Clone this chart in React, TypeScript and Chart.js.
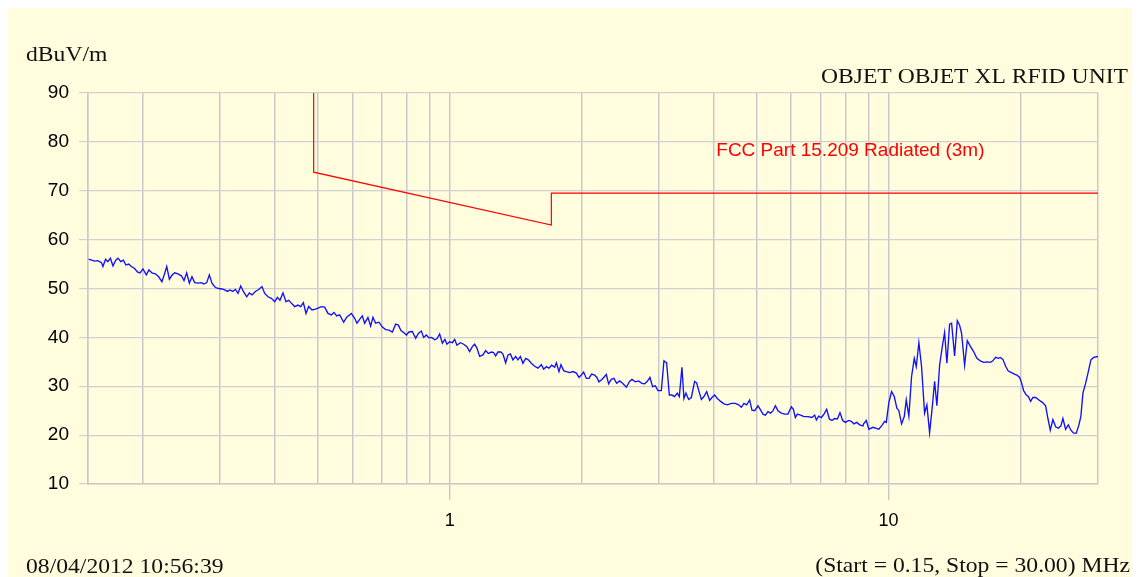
import React, { useEffect, useRef } from "react";
import { Chart, registerables } from "chart.js";

Chart.register(...registerables);

// ---- axis definitions ----
const Y_MIN = 10;
const Y_MAX = 90;
const Y_STEP = 10;
const X_MIN = 0.15;
const X_MAX = 30;
const X_GRID = [0.15, 0.2, 0.3, 0.4, 0.5, 0.6, 0.7, 0.8, 0.9, 1, 2, 3, 4, 5, 6, 7, 8, 9, 10, 20, 30];
const X_LABELED = [1, 10];

// ---- texts ----
const Y_UNIT = "dBuV/m";
const TITLE = "OBJET OBJET XL RFID UNIT";
const DATE_TEXT = "08/04/2012 10:56:39";
const RANGE_TEXT = "(Start = 0.15, Stop = 30.00) MHz";
const LIMIT_NAME = "FCC Part 15.209 Radiated (3m)";
const LIMIT_LABEL_AT = { f: 4.05, dB: 77.1 };

// ---- limit line (MHz, dBuV/m) ----
const LIMIT_FREQ = [0.49, 0.49, 1.705, 1.705, 30];
const LIMIT_LEVEL = [93.8, 73.8, 63.0, 69.5, 69.5];

// ---- measured scan [MHz, dBuV/m] ----
const SCAN_LOW: [number, number][] = [
  [0.1505, 56.0], [0.1553, 55.6], [0.158, 55.7], [0.161, 55.3], [0.1622, 54.5], [0.1645, 56.0], [0.1665, 55.5], [0.1687, 56.2],
  [0.171, 54.6], [0.1735, 55.8], [0.1756, 56.2], [0.1781, 55.5], [0.1806, 55.8], [0.183, 54.8], [0.1857, 55.0], [0.1883, 54.5],
  [0.1916, 54.1], [0.1943, 53.4], [0.197, 53.2], [0.2001, 54.0], [0.2037, 52.8], [0.2065, 53.8], [0.2098, 53.2], [0.2136, 53.0],
  [0.2173, 52.4], [0.2211, 51.4], [0.2243, 53.1], [0.2267, 54.5], [0.2299, 51.9], [0.233, 52.7], [0.2364, 53.2], [0.2405, 53.0],
  [0.2448, 52.6], [0.2482, 51.6], [0.2517, 53.2], [0.2553, 51.1], [0.2588, 52.4], [0.2625, 51.2], [0.2671, 51.1], [0.2719, 51.2],
  [0.2756, 50.9], [0.2796, 51.2], [0.2835, 52.8], [0.2874, 51.1], [0.2926, 50.2], [0.2977, 50.0], [0.3029, 49.9], [0.3073, 49.7],
  [0.3116, 49.4], [0.3159, 49.7], [0.3204, 49.4], [0.325, 49.8], [0.3295, 49.0], [0.3342, 50.5], [0.3389, 49.4], [0.3449, 48.3],
  [0.3497, 49.1], [0.3546, 48.7], [0.3609, 49.4], [0.3672, 49.8], [0.3736, 50.4], [0.379, 49.0], [0.3856, 48.3], [0.3925, 48.0],
  [0.3994, 47.3], [0.4051, 48.2], [0.4106, 47.6], [0.4172, 49.1], [0.4238, 47.3], [0.4299, 47.6], [0.436, 47.0], [0.4436, 46.3],
  [0.4513, 46.6], [0.4578, 46.3], [0.4642, 47.1], [0.4707, 44.9], [0.4773, 46.3], [0.4857, 45.6], [0.4945, 45.8], [0.5012, 46.0],
  [0.5102, 46.3], [0.5192, 46.2], [0.5282, 44.9], [0.5377, 44.6], [0.5451, 45.1], [0.5529, 44.4],
];

const SCAN_MID: [number, number][] = [
  [0.5616, 44.6], [0.5735, 43.1], [0.5836, 44.2], [0.5972, 44.9], [0.6076, 43.9], [0.6149, 42.9], [0.6237, 43.7], [0.6325, 44.4],
  [0.6403, 42.9], [0.6514, 44.1], [0.6607, 42.3], [0.6688, 44.1], [0.6783, 42.9], [0.6902, 43.1], [0.7026, 42.1], [0.7148, 41.6],
  [0.7273, 41.5], [0.7405, 41.1], [0.7534, 42.7], [0.7641, 42.5], [0.7747, 41.4], [0.7857, 41.0], [0.7969, 40.5], [0.8079, 41.1],
  [0.8222, 41.2], [0.8368, 39.8], [0.8486, 40.8], [0.862, 41.3], [0.8726, 40.0], [0.885, 40.5], [0.8971, 39.9], [0.9099, 40.0],
  [0.9244, 39.5], [0.9356, 39.7], [0.9489, 40.7], [0.9625, 38.8], [0.9757, 39.6], [0.9859, 38.6], [1.0, 39.1], [1.0143, 38.9],
  [1.0266, 39.6], [1.039, 38.4], [1.0577, 38.9], [1.0762, 38.6], [1.095, 38.1], [1.1106, 37.1], [1.1265, 38.1], [1.1401, 38.6],
  [1.1539, 37.8], [1.1704, 36.1], [1.1908, 36.4], [1.2078, 37.3], [1.225, 36.7], [1.2445, 37.0], [1.2596, 36.9], [1.2729, 36.2],
  [1.2883, 37.0], [1.3088, 37.0], [1.3226, 36.6], [1.3415, 34.8], [1.3578, 36.4], [1.375, 36.6], [1.3939, 35.4], [1.4138, 36.1],
  [1.431, 35.4], [1.4491, 36.1], [1.469, 34.7], [1.49, 35.7], [1.5112, 35.4], [1.5352, 34.7], [1.562, 34.1], [1.5893, 33.7],
  [1.6179, 34.4], [1.6375, 33.5], [1.6609, 34.0], [1.6837, 33.7], [1.7077, 34.3], [1.7348, 33.9], [1.7504, 34.8], [1.7744, 33.0],
  [1.7931, 34.4], [1.8187, 33.2], [1.8447, 33.0], [1.8769, 32.8], [1.9097, 33.0], [1.9441, 32.7], [1.9707, 31.8], [1.9953, 32.3],
  [2.0195, 32.9], [2.0483, 31.6], [2.0764, 31.6], [2.106, 32.5], [2.1395, 32.3], [2.1654, 31.8], [2.1883, 30.9],
];

const SCAN_UPPER: [number, number][] = [
  [2.223, 31.4], [2.2749, 32.4], [2.3025, 30.5], [2.3353, 31.4], [2.3674, 31.6], [2.4012, 30.6], [2.4393, 31.1], [2.478, 30.6],
  [2.5266, 29.8], [2.5707, 31.0], [2.6019, 31.4], [2.6487, 30.9], [2.6949, 31.1], [2.742, 30.6], [2.7812, 30.5], [2.8209, 31.0],
  [2.8596, 31.8], [2.9003, 29.9], [2.9418, 30.1], [2.9822, 29.1], [3.0358, 29.1], [3.0775, 35.2], [3.1214, 34.8], [3.1659, 28.2],
  [3.2094, 28.2], [3.2552, 27.9], [3.3017, 28.6], [3.3365, 27.9], [3.3824, 33.9], [3.418, 27.5], [3.4541, 28.6], [3.5034, 27.3],
  [3.5534, 27.7], [3.6155, 31.0], [3.6536, 30.7], [3.6922, 29.2], [3.7449, 27.3], [3.7963, 27.9], [3.8505, 28.9], [3.9117, 27.1],
  [3.9591, 27.7], [4.0156, 28.2], [4.0729, 27.5], [4.1441, 26.9], [4.2165, 26.4], [4.2924, 26.2], [4.3834, 26.5], [4.4764, 26.5],
  [4.5545, 26.2], [4.6196, 25.7], [4.6831, 26.5], [4.7499, 26.2], [4.8252, 27.2], [4.8838, 25.1], [4.9535, 25.0], [5.0401, 26.0],
  [5.1121, 25.1], [5.1741, 24.3], [5.2395, 24.1], [5.3115, 24.8], [5.3872, 24.5], [5.4526, 25.0], [5.5215, 26.0], [5.5974, 25.0],
  [5.698, 24.5], [5.7976, 24.3], [5.8989, 24.3], [6.005, 25.8], [6.0684, 25.3], [6.1323, 23.6], [6.197, 24.3], [6.3052, 24.1],
  [6.4154, 23.8], [6.5513, 23.8], [6.6903, 23.6], [6.786, 24.1], [6.8469, 23.1], [6.93, 23.9], [7.029, 23.6], [7.1254, 24.3],
  [7.2273, 25.3], [7.3305, 23.3], [7.4311, 23.0], [7.5371, 23.4], [7.6447, 23.3], [7.7497, 24.6], [7.8604, 23.0], [7.9726, 22.6],
  [8.1118, 23.0], [8.2277, 22.8], [8.3407, 22.3], [8.4599, 22.6], [8.5941, 22.1], [8.7442, 21.9],
];

const SCAN_HIGH: [number, number][] = [
  [8.771, 22.3], [8.896, 23.0], [9.018, 21.2], [9.209, 21.6], [9.375, 21.4], [9.504, 21.2], [9.675, 22.1], [9.792, 22.8],
  [9.88, 22.6], [10.016, 26.7], [10.159, 28.9], [10.303, 27.9], [10.445, 25.5], [10.555, 25.0], [10.705, 22.3], [10.858, 23.8],
  [10.972, 27.2], [11.123, 23.9], [11.282, 32.0], [11.443, 35.7], [11.564, 34.0], [11.723, 38.9], [11.89, 34.0], [12.078, 24.5],
  [12.225, 26.2], [12.401, 20.5], [12.578, 25.8], [12.731, 31.0], [12.885, 26.0], [13.069, 34.3], [13.255, 38.1], [13.416, 41.0],
  [13.579, 34.7], [13.773, 42.7], [13.918, 42.9], [14.139, 36.2], [14.341, 43.4], [14.515, 42.5], [14.668, 40.8], [14.901, 34.3],
  [15.112, 39.3], [15.352, 38.2], [15.62, 37.1], [15.893, 35.7], [16.179, 35.2], [16.462, 34.9], [16.749, 35.0], [17.05, 34.9],
  [17.284, 35.2], [17.531, 35.9], [17.781, 35.7], [17.969, 35.9], [18.216, 35.5], [18.476, 34.1], [18.74, 33.1], [19.067, 32.8],
  [19.339, 32.5], [19.605, 32.3], [19.885, 31.8], [20.095, 30.7], [20.307, 29.1], [20.597, 28.2], [20.814, 27.9], [21.066, 26.9],
  [21.322, 27.7], [21.626, 27.7], [22.004, 27.2], [22.399, 26.7], [22.791, 26.0], [23.067, 23.4], [23.359, 21.0], [23.68, 23.2],
  [24.018, 21.7], [24.361, 21.4], [24.695, 21.9], [24.956, 23.4], [25.311, 21.2], [25.673, 22.1], [26.026, 21.0], [26.397, 20.4],
  [26.774, 20.4], [27.142, 22.1], [27.428, 23.9], [27.717, 28.6], [28.113, 30.6], [28.515, 33.0], [28.906, 35.4], [29.319, 35.9],
  [30.0, 36.1],
];

// ---- styling ----
const BG = "#FFFDDE";
const GRID = "#c9c9c9";
const SANS = '"Liberation Sans", Arial, sans-serif';
const SERIF = '"Liberation Serif", "Times New Roman", serif';

const decorPlugin = {
  id: "decor",
  beforeDraw(chart: any) {
    const ctx = chart.ctx;
    ctx.save();
    ctx.fillStyle = BG;
    ctx.fillRect(0, 0, chart.width, chart.height);
    ctx.restore();
  },
  afterDraw(chart: any) {
    const ctx = chart.ctx;
    const serif = (text: string, x: number, y: number, align: string) => {
      ctx.save();
      ctx.font = `21px ${SERIF}`;
      ctx.fillStyle = "#111";
      ctx.textBaseline = "alphabetic";
      ctx.textAlign = align;
      ctx.translate(x, y);
      ctx.scale(1.125, 1);
      ctx.fillText(text, 0, 0);
      ctx.restore();
    };
    serif(Y_UNIT, 18, 53, "left");
    serif(TITLE, 1120, 75, "right");
    serif(DATE_TEXT, 18, 565, "left");
    serif(RANGE_TEXT, 1122, 564, "right");

    const xs = chart.scales.x;
    const ys = chart.scales.y;
    ctx.save();
    ctx.font = `19px ${SANS}`;
    ctx.fillStyle = "#ff0000";
    ctx.textAlign = "left";
    ctx.textBaseline = "alphabetic";
    ctx.fillText(LIMIT_NAME, xs.getPixelForValue(LIMIT_LABEL_AT.f), ys.getPixelForValue(LIMIT_LABEL_AT.dB));
    ctx.restore();
  },
};

export default function App() {
  const ref = useRef<HTMLCanvasElement>(null);

  useEffect(() => {
    const scan = [...SCAN_LOW, ...SCAN_MID, ...SCAN_UPPER, ...SCAN_HIGH].map(([f, v]) => ({ x: f, y: v }));
    const limit = LIMIT_FREQ.map((f, i) => ({ x: f, y: LIMIT_LEVEL[i] }));

    const chart = new Chart(ref.current as HTMLCanvasElement, {
      type: "line",
      data: {
        datasets: [
          {
            label: LIMIT_NAME,
            data: limit,
            borderColor: "#ff0000",
            borderWidth: 1.2,
            pointRadius: 0,
            tension: 0,
          },
          {
            label: "Scan",
            data: scan,
            borderColor: "#1010ff",
            borderWidth: 1.35,
            pointRadius: 0,
            tension: 0,
          },
        ],
      },
      options: {
        animation: false,
        responsive: false,
        devicePixelRatio: 1,
        layout: { padding: { top: 85, right: 42, left: 0, bottom: 0 } },
        plugins: {
          legend: { display: false },
          tooltip: { enabled: false },
          title: { display: false },
        },
        scales: {
          x: {
            type: "logarithmic",
            min: X_MIN,
            max: X_MAX,
            afterBuildTicks: (scale: any) => {
              scale.ticks = X_GRID.map((v) => ({ value: v }));
            },
            afterFit: (scale: any) => {
              scale.height = 93;
            },
            grid: {
              color: GRID,
              lineWidth: 1.5,
              drawTicks: true,
              tickLength: 16,
              tickWidth: 1,
              tickColor: (ctx: any) =>
                ctx.tick && X_LABELED.includes(ctx.tick.value) ? "#b5b5b5" : "rgba(0,0,0,0)",
            },
            border: { display: true, color: GRID, width: 1.5 },
            ticks: {
              autoSkip: false,
              maxRotation: 0,
              padding: 10,
              color: "#000",
              font: { family: SANS, size: 18 },
              callback: (value: any) => (X_LABELED.includes(Number(value)) ? String(value) : ""),
            },
          },
          y: {
            type: "linear",
            min: Y_MIN,
            max: Y_MAX,
            afterFit: (scale: any) => {
              scale.width = 80;
            },
            grid: {
              color: "#d0d0d0",
              lineWidth: 1.2,
              drawTicks: true,
              tickLength: 9,
              tickColor: "#d0d0d0",
            },
            border: { display: true, color: GRID, width: 1.5 },
            ticks: {
              stepSize: Y_STEP,
              padding: 10,
              color: "#000",
              font: { family: SANS, size: 19 },
            },
          },
        },
      },
      plugins: [decorPlugin],
    } as any);

    return () => chart.destroy();
  }, []);

  return (
    <div style={{ width: 1132, height: 569 }}>
      <canvas ref={ref} width={1132} height={569} style={{ display: "block" }} />
    </div>
  );
}
